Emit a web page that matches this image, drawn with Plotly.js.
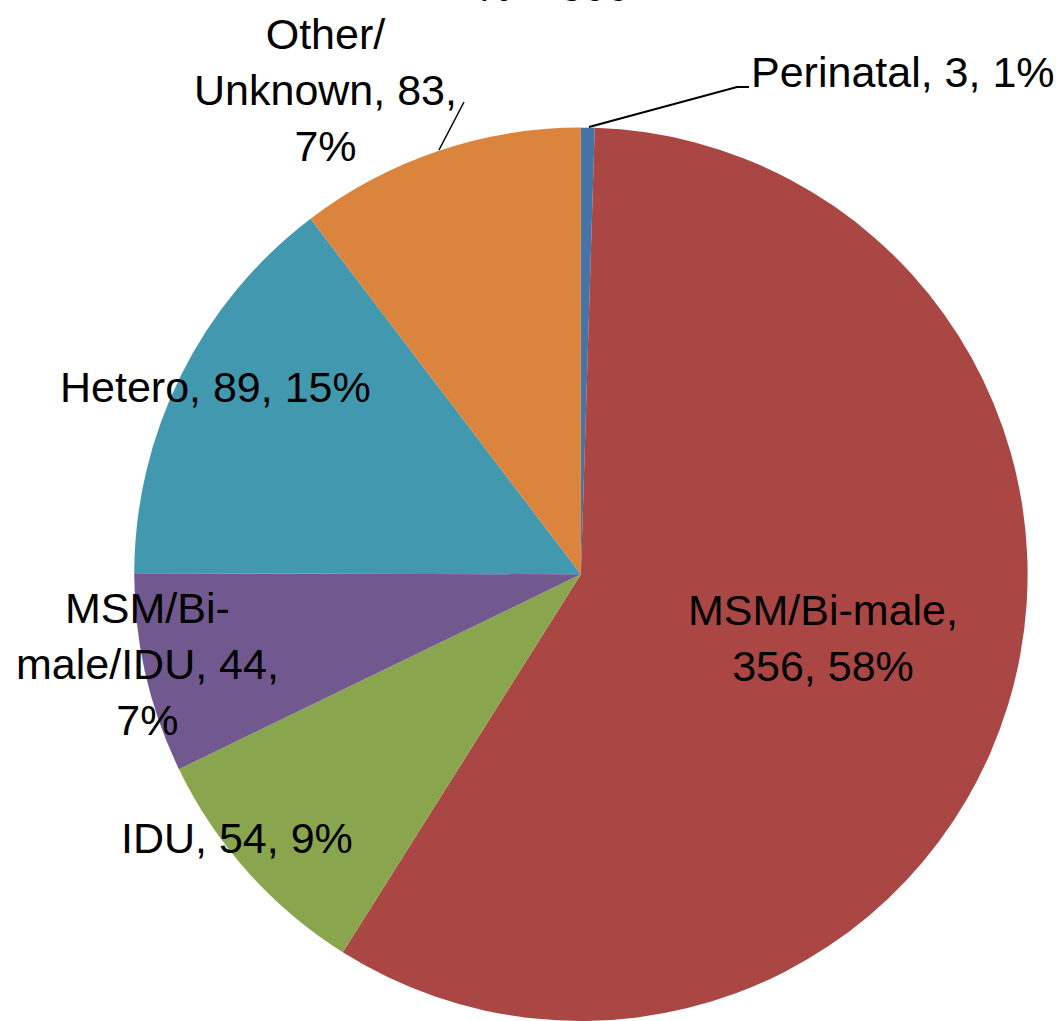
<!DOCTYPE html>
<html>
<head>
<meta charset="utf-8">
<script src="https://cdn.plot.ly/plotly-3.0.1.min.js"></script>
<style>html,body{margin:0;padding:0;background:#fff;}#chart{width:1062px;height:1021px;}</style>
</head>
<body>
<div id="chart"></div>
<script>
// Data
const categories = ['Perinatal', 'MSM/Bi-male', 'IDU', 'MSM/Bi-male/IDU', 'Hetero', 'Other/Unknown'];
const sliceValues = [3, 356, 54, 44, 89, 63];          // slice sizes as drawn (total 609)
const labelCounts = [3, 356, 54, 44, 89, 83];          // counts as printed in labels
const labelPcts = ['1%', '58%', '9%', '7%', '15%', '7%'];
const colors = ['#4572A7', '#AA4643', '#89A54E', '#71588F', '#4198AF', '#DB843D'];
const totalLabel = 'N = 609';

// line-break points for each label (substring after which a break occurs)
const breakAfter = [[], ['MSM/Bi-male,'], [], ['MSM/Bi-', 'IDU, 44,'], [], ['Other/', '83,']];
// label anchor positions (pixel centres of the label blocks)
const labelPos = [[903, 72], [823, 638], [237, 838], [147, 664], [215, 387], [325, 90]];

const W = 1062, H = 1021;
const FONT = 'Liberation Sans, Arial, sans-serif';

function labelText(i) {
  let t = categories[i] + ', ' + labelCounts[i] + ', ' + labelPcts[i];
  breakAfter[i].forEach(b => { t = t.replace(b + ' ', b + '<br>').replace(b, b.endsWith('-') || b.endsWith('/') ? b + '<br>' : b); });
  return t.replace(/<br><br>/g, '<br>').replace(/<br> /g, '<br>');
}

const annotations = categories.map((c, i) => ({
  text: labelText(i), xref: 'paper', yref: 'paper',
  x: labelPos[i][0] / W, y: 1 - labelPos[i][1] / H,
  xanchor: 'center', yanchor: 'middle', align: 'center', showarrow: false,
  font: {family: FONT, size: 43, color: '#000'}
}));
annotations.push({
  text: totalLabel, xref: 'paper', yref: 'paper', x: 555 / W, y: 1 + 14 / H,
  xanchor: 'center', yanchor: 'middle', showarrow: false,
  font: {family: FONT, size: 43, color: '#000'}
});

const px = (x) => x / W, py = (y) => 1 - y / H;
const shapes = [
  {type: 'path', xref: 'paper', yref: 'paper',
   path: `M ${px(749)} ${py(87)} L ${px(737)} ${py(87)} L ${px(589)} ${py(127)}`,
   line: {color: '#000', width: 2}},
  {type: 'line', xref: 'paper', yref: 'paper', x0: px(464), y0: py(102), x1: px(439), y1: py(150),
   line: {color: '#000', width: 1.5}}
];

const trace = {
  type: 'pie', labels: categories, values: sliceValues, sort: false,
  direction: 'clockwise', rotation: 0,
  marker: {colors: colors, line: {width: 0}},
  textinfo: 'none', hoverinfo: 'label+value+percent',
  domain: {x: [0.126, 0.968], y: [0, 0.875]},
  showlegend: false
};

Plotly.newPlot('chart', [trace], {
  width: W, height: H, margin: {l: 0, r: 0, t: 0, b: 0},
  paper_bgcolor: '#fff', plot_bgcolor: '#fff', showlegend: false,
  annotations: annotations, shapes: shapes
}, {displayModeBar: false, staticPlot: true});
</script>
</body>
</html>
